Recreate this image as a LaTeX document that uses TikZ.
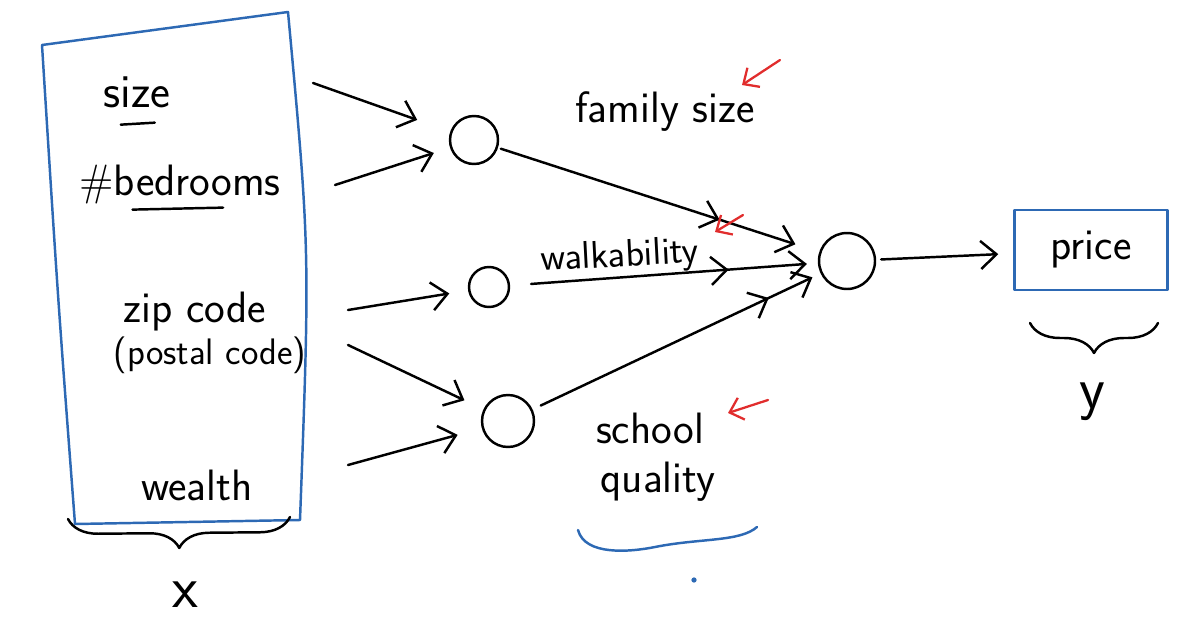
\documentclass[tikz,border=0pt]{standalone}
\usepackage{tikz}
\usetikzlibrary{arrows.meta}
\usetikzlibrary{calc}
\usetikzlibrary{positioning}
\usetikzlibrary{decorations.pathreplacing}
\usetikzlibrary{decorations.markings}
\definecolor{penblue}{RGB}{45,105,180}
\definecolor{penred}{RGB}{225,45,45}

\tikzset{
  every neuron/.style={circle, draw, line width=1.4pt, inner sep=0pt},
  neuron 1/.style={minimum size=0.96cm},
  neuron 2/.style={minimum size=0.80cm},
  neuron 3/.style={minimum size=1.04cm},
  input 1/.style={font=\sffamily\fontsize{27}{30}\selectfont},
  input 4/.style={font=\sffamily\fontsize{21}{24}\selectfont},
  mid arrow/.style={postaction={decorate, decoration={markings,
    mark=at position #1 with {\arrow{>}}}}},
  hint/.style={penred, line width=1.3pt, -{Straight Barb[length=7pt,width=13pt]}},
  big letter/.style={font=\sffamily\fontsize{34}{38}\selectfont}
}

\begin{document}
\begin{tikzpicture}[x=0.02cm, y=-0.02cm, >={Straight Barb[length=9pt,width=16pt]},
  font=\sffamily\fontsize{25}{28}\selectfont, line width=1.4pt, line cap=round, line join=round]

\useasboundingbox (0,0) rectangle (1202,639);

% box of features
\draw [penblue] (42,45) -- (288,12) .. controls (310,250) .. (300,520)
  -- (75,524) .. controls (58,300) .. (42,45) -- cycle;

\foreach \x/\y/\l [count=\i] in {137/92/size, 180/185/\#bedrooms, 195/312/zip code,
    210/355/(postal code), 197/485/wealth}
  \node [input \i/.try] (input-\i) at (\x,\y) {\l};

% underlines
\draw ($(input-1.south west)!0.3!(input-1.south east)+(0,10)$) -- ($(input-1.south west)!0.72!(input-1.south east)+(0,8)$);
\draw ($(input-2.south west)!0.28!(input-2.south east)+(0,-2)$) -- ($(input-2.south west)!0.7!(input-2.south east)+(0,-4)$);

\foreach \m/\x/\y in {1/474/140, 2/489/287, 3/508/421}
  \node [every neuron/.try, neuron \m/.try] (hidden-\m) at (\x,\y) {};

\node [every neuron/.try, minimum size=1.12cm] (output) at (847,261) {};

\node [draw=penblue, minimum width=3.06cm, minimum height=1.6cm] (target) at (1091,250) {price};

% features -> hidden
\foreach \s/\x/\y/\t/\d in {1/313/83/1/0.7cm, 2/335/185/1/0.34cm, 3/348/310/2/0.38cm,
    4/348/345/3/0.42cm, 5/348/465/3/0.5cm}
{
  \coordinate (start-\s) at (\x,\y);
  \draw [->, shorten >=\d] (start-\s) -- (hidden-\t);
}

% hidden -> output
\foreach \i/\p/\a/\d in {1/0.69/0.06cm/0.5cm, 2/0.71/0.42cm/0.22cm, 3/0.82/0.18cm/0.18cm}
  \draw [->, mid arrow=\p, shorten <=\a, shorten >=\d] (hidden-\i) -- (output);

\draw [->, shorten <=0.1cm, shorten >=0.3cm] (output) -- (target);

\node (family) at (665,112) {family size};
\node [rotate=3, font=\sffamily\fontsize{22}{24}\selectfont] (walk) at (620,257) {walkability};
\node (school) at (650,428) {school};
\node (quality) at (658,482) {quality};

% red hints
\coordinate (hint-1) at (780,60);
\coordinate (hint-2) at (743,215);
\coordinate (hint-3) at (768,400);
\draw [hint] (hint-1) -- ++(-38,25);
\draw [hint] (hint-2) -- ++(-28,17);
\draw [hint] (hint-3) -- ++(-40,13);

\draw [penblue] (578,530) .. controls (585,556) and (630,552) .. (655,547)
  .. controls (700,538) and (740,542) .. (757,527);
\fill [penblue] (694,580) circle (1.5pt);

\draw [decorate, decoration={brace, mirror, amplitude=0.6cm}] (68,519) -- (290,517);
\node [big letter] (x-label) at (185,595) {x};

\draw [decorate, decoration={brace, mirror, amplitude=0.6cm}] (1030,323) -- (1158,323);
\node [big letter] (y-label) at (1092,402) {y};

\end{tikzpicture}
\end{document}
